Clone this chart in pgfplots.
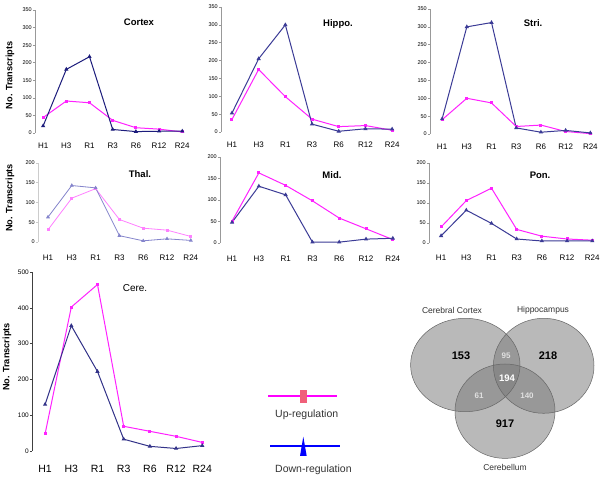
\documentclass[border=0pt]{standalone}
\usepackage{pgfplots}
\pgfplotsset{compat=1.18}
\usepackage{fontspec}
\setmainfont{Liberation Sans}
\definecolor{upc}{HTML}{FF22FF}
\definecolor{upl}{HTML}{FF80FF}
\definecolor{dnc}{HTML}{3B3B96}
\definecolor{dnnavy}{HTML}{1C1C7C}
\definecolor{dnl}{HTML}{8585CC}
\definecolor{legpink}{HTML}{F0607A}
\definecolor{legmag}{HTML}{FF00FF}
\definecolor{legblue}{HTML}{0000FF}
\definecolor{txt}{HTML}{333333}
\newcommand{\fs}[1]{\fontsize{#1bp}{#1bp}\selectfont}
\pgfplotsset{
 panel/.style={
  scale only axis, anchor=south west, clip=false,
  axis lines*=left,
  x axis line style={draw=none},
  y axis line style={draw=gray!80, line width=0.6bp},
  xtick={0,1,2,3,4,5,6},
  xticklabels={H1,H3,R1,R3,R6,R12,R24},
  xtick style={draw=none},
  ytick style={draw=gray!80, line width=0.6bp},
  tick align=outside, major tick length=2bp,
  enlargelimits=false, xmax=6.1, ymin=0,
  /pgf/number format/assume math mode=true,
  yticklabel style={font=\fs{5.5}, inner sep=1bp},
  xticklabel style={font=\fs{8}, yshift=-4bp},
  every axis title shift=0pt,
  title style={font=\bfseries\fs{9.5}, anchor=center},
  ylabel style={font=\bfseries\fs{9.2}, anchor=center},
 },
 up/.style={color=upc, line width=1bp, mark=square*, mark size=1bp},
 dn/.style={color=dnc, line width=1bp, mark=triangle*, mark size=1.5bp},
}
\begin{document}
\begin{tikzpicture}
\fill[white] (0,0) rectangle (600bp,500bp);
\path[use as bounding box] (0,0) rectangle (600bp,500bp);

% Cortex
\begin{axis}[panel, at={(35bp,367bp)}, width=149.6bp, height=123bp,
  xmin=-0.35, ymax=350, ytick={0,50,...,350},
  title={Cortex}, title style={at={(rel axis cs:0.695,0.90)}, anchor=center},
  ylabel={No. Transcripts}, ylabel style={at={(rel axis cs:-0.167,0.47)}}]
\addplot[up] coordinates {(0,44)(1,91)(2,86)(3,36)(4,15)(5,11)(6,3)};
\addplot[dn, color=dnnavy] coordinates {(0,20)(1,181)(2,217)(3,10)(4,4)(5,5)(6,5)};
\end{axis}

% Hippo
\begin{axis}[panel, at={(221bp,368bp)}, width=173.8bp, height=125bp,
  xmin=-0.41, ymax=350, ytick={0,50,...,350},
  title={Hippo.}, title style={at={(rel axis cs:0.673,0.864)}, anchor=center}]
\addplot[up] coordinates {(0,35)(1,175)(2,99)(3,36)(4,15)(5,18)(6,5)};
\addplot[dn] coordinates {(0,53)(1,205)(2,300)(3,22)(4,2)(5,9)(6,8)};
\end{axis}

% Stri
\begin{axis}[panel, at={(430bp,366bp)}, width=162.8bp, height=125bp,
  xmin=-0.49, ymax=350, ytick={0,50,...,350},
  title={Stri.}, title style={at={(rel axis cs:0.633,0.888)}, anchor=center}]
\addplot[up] coordinates {(0,40)(1,100)(2,87)(3,21)(4,25)(5,7)(6,1)};
\addplot[dn] coordinates {(0,42)(1,300)(2,312)(3,17)(4,5)(5,10)(6,3)};
\end{axis}

% Thal
\begin{axis}[panel, at={(38bp,258bp)}, width=155.2bp, height=79bp,
  xmin=-0.42, ymax=200, ytick={0,50,...,200},
  y axis line style={draw=gray!40}, ytick style={draw=gray!40},
  xticklabel style={yshift=-3bp},
  title={Thal.}, title style={at={(rel axis cs:0.657,0.86)}, anchor=center},
  ylabel={No. Transcripts}, ylabel style={at={(rel axis cs:-0.18,0.557)}}]
\addplot[up, color=upl, line width=0.8bp] coordinates {(0,31)(1,111)(2,135)(3,57)(4,35)(5,30)(6,14)};
\addplot[dn, color=dnl, line width=0.8bp] coordinates {(0,63)(1,143)(2,137)(3,16)(4,3)(5,8)(6,4)};
\end{axis}

% Mid
\begin{axis}[panel, at={(220bp,257bp)}, width=175.5bp, height=86bp,
  xmin=-0.45, ymax=200, ytick={0,50,...,200},
  xticklabel style={yshift=-3bp},
  title={Mid.}, title style={at={(rel axis cs:0.638,0.79)}, anchor=center}]
\addplot[up] coordinates {(0,51)(1,163)(2,134)(3,98)(4,58)(5,33)(6,8)};
\addplot[dn] coordinates {(0,48)(1,132)(2,112)(3,2)(4,2)(5,9)(6,11)};
\end{axis}

% Pon
\begin{axis}[panel, at={(429bp,257bp)}, width=165.8bp, height=80bp,
  xmin=-0.48, ymax=200, ytick={0,50,...,200},
  xticklabel style={yshift=-2bp},
  title={Pon.}, title style={at={(rel axis cs:0.67,0.85)}, anchor=center}]
\addplot[up] coordinates {(0,40)(1,106)(2,137)(3,34)(4,17)(5,10)(6,7)};
\addplot[dn] coordinates {(0,18)(1,82)(2,49)(3,10)(4,5)(5,5)(6,5)};
\end{axis}

% Cere
\begin{axis}[panel, at={(32bp,49bp)}, width=172.9bp, height=179bp,
  xmin=-0.5, ymax=500, ytick={0,100,...,500},
  y axis line style={draw=black!75}, ytick style={draw=black!75},
  yticklabel style={font=\fs{6.5}},
  xticklabel style={font=\fs{10.5}, yshift=-4.5bp},
  title={Cere.}, title style={at={(rel axis cs:0.596,0.91)}, anchor=center, font=\fs{10}},
  ylabel={No. Transcripts}, ylabel style={at={(rel axis cs:-0.145,0.525)}}]
\addplot[up] coordinates {(0,48)(1,402)(2,465)(3,69)(4,55)(5,41)(6,24)};
\addplot[dn, color=dnnavy!90] coordinates {(0,130)(1,350)(2,222)(3,33)(4,13)(5,7)(6,15)};
\end{axis}

% Legend
\begin{scope}
\draw[legmag, line width=1.2bp] (268bp,104bp) -- (337bp,104bp);
\fill[legpink] (300bp,96.7bp) rectangle (307bp,110bp);
\node[anchor=base west, inner sep=0pt, font=\fs{10.5}, text=txt] at (275bp,82bp) {Up-regulation};
\draw[legblue, line width=1.2bp] (270bp,54bp) -- (340bp,54bp);
\fill[legblue] (300bp,44bp) -- (303.3bp,63.3bp) -- (306.7bp,44bp) -- cycle;
\node[anchor=base west, inner sep=0pt, font=\fs{10.5}, text=txt] at (275bp,28bp) {Down-regulation};
\end{scope}

% Venn diagram
\begin{scope}
\fill[black!52, opacity=0.52] (465.3bp,135bp) ellipse [x radius=54.7bp, y radius=46.7bp];
\fill[black!52, opacity=0.52] (543.7bp,134.2bp) ellipse [x radius=50.3bp, y radius=47.5bp];
\fill[black!52, opacity=0.52] (505bp,88.8bp) ellipse [x radius=50bp, y radius=47.2bp];
\draw[black!60, line width=0.5bp] (465.3bp,135bp) ellipse [x radius=54.7bp, y radius=46.7bp];
\draw[black!60, line width=0.5bp] (543.7bp,134.2bp) ellipse [x radius=50.3bp, y radius=47.5bp];
\draw[black!60, line width=0.5bp] (505bp,88.8bp) ellipse [x radius=50bp, y radius=47.2bp];
\node[font=\fs{8.5}, text=txt] at (452bp,190bp) {Cerebral Cortex};
\node[font=\fs{8.5}, text=txt] at (543bp,190bp) {Hippocampus};
\node[font=\fs{8.5}, text=txt] at (505bp,33bp) {Cerebellum};
\node[font=\bfseries\fs{11}] at (461bp,144bp) {153};
\node[font=\bfseries\fs{11}] at (548bp,144bp) {218};
\node[font=\bfseries\fs{11}] at (505bp,76bp) {917};
\node[font=\bfseries\fs{8}, text=white!88!black] at (506bp,144bp) {95};
\node[font=\bfseries\fs{9.5}, text=white] at (507bp,122bp) {194};
\node[font=\bfseries\fs{8}, text=white!88!black] at (479bp,104bp) {61};
\node[font=\bfseries\fs{8}, text=white!88!black] at (527bp,104bp) {140};
\end{scope}
\end{tikzpicture}
\end{document}
